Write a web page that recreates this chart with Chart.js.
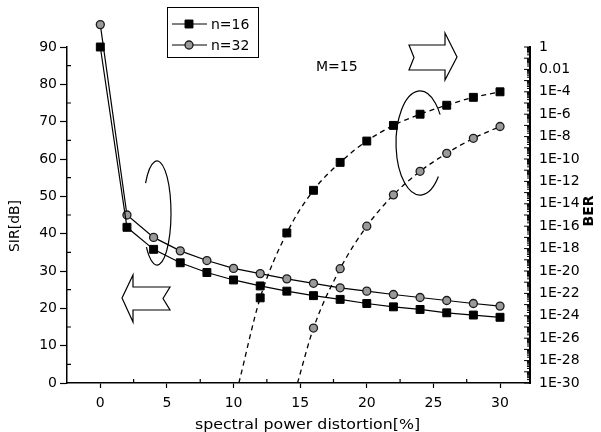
<!DOCTYPE html>
<html>
<head>
<meta charset="utf-8">
<script src="https://cdn.jsdelivr.net/npm/chart.js@4/dist/chart.umd.min.js"></script>
<style>
  body { margin: 0; background: #fff; }
</style>
</head>
<body>
<canvas id="chart" width="601" height="432"></canvas>
<script>
// SIR (left axis) vs distortion
const distortion = [0, 2, 4, 6, 8, 10, 12, 14, 16, 18, 20, 22, 24, 26, 28, 30];
const sirN16 = [90, 41.7, 35.8, 32.2, 29.6, 27.6, 26.0, 24.6, 23.4, 22.4, 21.3, 20.4, 19.7, 18.8, 18.2, 17.6];
const sirN32 = [96, 45.0, 39.0, 35.4, 32.8, 30.7, 29.3, 27.9, 26.7, 25.5, 24.6, 23.7, 22.9, 22.1, 21.3, 20.6];

// BER (right axis); first entry is where the fitted curve leaves the bottom
const berDistN16 = [10.4, 12, 14, 16, 18, 20, 22, 24, 26, 28, 30];
const berN16 = [1e-30, 4e-23, 2.5e-17, 1.6e-13, 5e-11, 4e-9, 1e-7, 1e-6, 6.3e-6, 3.2e-5, 1e-4];
const berDistN32 = [14.8, 16, 18, 20, 22, 24, 26, 28, 30];
const berN32 = [1e-30, 8e-26, 1.6e-20, 1e-16, 6.3e-14, 8e-12, 3.2e-10, 7e-9, 8e-8];

const xTicks = [0, 5, 10, 15, 20, 25, 30];
const sirTicks = [0, 10, 20, 30, 40, 50, 60, 70, 80, 90];

const FONT = "'DejaVu Sans', sans-serif";
const pairs = (xs, ys) => xs.map((x, i) => ({ x: x, y: ys[i] }));

const square = { pointStyle: 'rect', pointRadius: 5.6, pointBackgroundColor: '#000', pointBorderColor: '#000', pointBorderWidth: 1 };
const circle = { pointStyle: 'circle', pointRadius: 4, pointBackgroundColor: '#9a9a9a', pointBorderColor: '#1a1a1a', pointBorderWidth: 1.3 };

// points that sit above the top of the axis (clip: false) are still drawn
const overflowPoints = {
  id: 'overflowPoints',
  afterDatasetsDraw(chart) {
    const a = chart.chartArea;
    const big = { left: -1e4, top: -1e4, right: 1e4, bottom: 1e4 };
    chart.data.datasets.forEach((ds, i) => {
      if (ds.clip !== false) return;
      chart.getDatasetMeta(i).data.forEach(pt => {
        if (pt.y < a.top - 1 || pt.y > a.bottom + 1) pt.draw(chart.ctx, big);
      });
    });
  }
};

const decor = {
  id: 'decor',
  afterDraw(chart) {
    const ctx = chart.ctx;
    const x = chart.scales.x, y = chart.scales.y, y2 = chart.scales.y2;
    ctx.save();
    ctx.strokeStyle = '#000';
    ctx.fillStyle = '#000';
    ctx.lineWidth = 1.2;

    // minor ticks
    ctx.beginPath();
    for (let v = 2.5; v < 32; v += 5) {
      const px = x.getPixelForValue(v);
      ctx.moveTo(px, y.bottom); ctx.lineTo(px, y.bottom - 4);
    }
    for (let v = 5; v < 90; v += 10) {
      const py = y.getPixelForValue(v);
      ctx.moveTo(x.left, py); ctx.lineTo(x.left + 4, py);
    }
    ctx.stroke();
    // BER axis ticks point inward
    ctx.beginPath();
    ctx.lineWidth = 1;
    for (let e = -30; e <= 0; e++) {
      let py = y2.getPixelForValue(Math.pow(10, e));
      ctx.moveTo(y2.left, py); ctx.lineTo(y2.left - 6, py);
      if (e < 0) {
        for (let m = 2; m <= 9; m++) {
          py = y2.getPixelForValue(m * Math.pow(10, e));
          ctx.moveTo(y2.left, py); ctx.lineTo(y2.left - 3, py);
        }
      }
    }
    ctx.stroke();

    // axis titles
    ctx.font = '14px ' + FONT;
    ctx.textAlign = 'center';
    ctx.textBaseline = 'middle';
    ctx.save();
    ctx.translate(307.5, 425);
    ctx.scale(1.13, 1);
    ctx.fillText('spectral power distortion[%]', 0, 0);
    ctx.restore();
    ctx.save();
    ctx.translate(15, 226);
    ctx.rotate(-Math.PI / 2);
    ctx.fillText('SIR[dB]', 0, 0);
    ctx.restore();
    ctx.save();
    ctx.translate(589, 211);
    ctx.rotate(-Math.PI / 2);
    ctx.font = 'bold 14px ' + FONT;
    ctx.fillText('BER', 0, 0);
    ctx.restore();

    ctx.textAlign = 'left';
    ctx.fillText('M=15', 316, 67);

    // legend
    ctx.lineWidth = 1;
    ctx.strokeRect(167.5, 7.5, 91, 50);
    chart.data.datasets.slice(0, 2).forEach((ds, i) => {
      const cy = 24 + i * 21;
      ctx.beginPath();
      ctx.moveTo(172, cy); ctx.lineTo(207, cy);
      ctx.strokeStyle = '#000';
      ctx.stroke();
      ctx.fillStyle = ds.pointBackgroundColor;
      ctx.strokeStyle = ds.pointBorderColor;
      ctx.lineWidth = ds.pointBorderWidth;
      Chart.helpers.drawPoint(ctx, { pointStyle: ds.pointStyle, radius: ds.pointRadius, borderWidth: ds.pointBorderWidth }, 189, cy);
      ctx.fillStyle = '#000';
      ctx.strokeStyle = '#000';
      ctx.lineWidth = 1;
      ctx.fillText(ds.label, 211, cy + 1);
    });

    // arrows
    ctx.lineWidth = 1.2;
    const poly = pts => {
      ctx.beginPath();
      pts.forEach((p, i) => i ? ctx.lineTo(p[0], p[1]) : ctx.moveTo(p[0], p[1]));
      ctx.closePath();
      ctx.fillStyle = '#fff';
      ctx.fill();
      ctx.stroke();
    };
    poly([[409, 45], [445, 45], [445, 33], [457, 57], [445, 80], [445, 70], [409, 70], [414, 57.5]]);
    poly([[122, 298], [133, 275], [133, 287], [170, 287], [163, 298.5], [170, 310], [133, 310], [133, 322]]);

    // ellipses
    const rad = d => d * Math.PI / 180;
    ctx.beginPath();
    ctx.ellipse(157, 213, 14, 52, 0, rad(215), rad(499));
    ctx.stroke();
    ctx.beginPath();
    ctx.ellipse(420, 143, 24, 52, 0, rad(40), rad(327));
    ctx.stroke();

    ctx.restore();
  }
};

new Chart(document.getElementById('chart'), {
  type: 'scatter',
  data: {
    datasets: [
      Object.assign({ label: 'n=16', data: pairs(distortion, sirN16), yAxisID: 'y', showLine: true, borderColor: '#000', borderWidth: 1.2, clip: false }, square),
      Object.assign({ label: 'n=32', data: pairs(distortion, sirN32), yAxisID: 'y', showLine: true, borderColor: '#000', borderWidth: 1.2, clip: false }, circle),
      Object.assign({ label: 'BER n=16', data: pairs(berDistN16, berN16), yAxisID: 'y2', showLine: true, borderColor: '#000', borderWidth: 1.3, borderDash: [5, 4], cubicInterpolationMode: 'monotone' }, square, { pointRadius: berN16.map((v, i) => i ? 5.6 : 0) }),
      Object.assign({ label: 'BER n=32', data: pairs(berDistN32, berN32), yAxisID: 'y2', showLine: true, borderColor: '#000', borderWidth: 1.3, borderDash: [5, 4], cubicInterpolationMode: 'monotone' }, circle, { pointRadius: berN32.map((v, i) => i ? 4 : 0) })
    ]
  },
  options: {
    responsive: false,
    animation: false,
    devicePixelRatio: 1,
    layout: { padding: { top: 47, left: 0, right: 0, bottom: 0 } },
    plugins: { legend: { display: false }, tooltip: { enabled: false } },
    scales: {
      x: {
        type: 'linear', min: -2.5, max: 32.25,
        afterBuildTicks: s => { s.ticks = xTicks.map(v => ({ value: v })); },
        afterFit: s => { s.height = 49; },
        grid: { drawOnChartArea: false, tickLength: 5, tickColor: '#000', tickWidth: 1.2 },
        border: { color: '#000', width: 1.5 },
        ticks: { color: '#000', font: { family: FONT, size: 14 }, padding: 7, maxRotation: 0 }
      },
      y: {
        type: 'linear', position: 'left', min: 0, max: 90,
        afterBuildTicks: s => { s.ticks = sirTicks.map(v => ({ value: v })); },
        afterFit: s => { s.width = 67; },
        grid: { drawOnChartArea: false, tickLength: 7, tickColor: '#000', tickWidth: 1.2 },
        border: { color: '#000', width: 1.5 },
        ticks: { color: '#000', font: { family: FONT, size: 14 }, padding: 3 }
      },
      y2: {
        type: 'logarithmic', position: 'right', min: 1e-30, max: 1,
        afterBuildTicks: s => {
          const t = [];
          for (let e = -30; e <= 0; e += 2) t.push({ value: Math.pow(10, e) });
          s.ticks = t;
        },
        afterFit: s => { s.width = 71; },
        grid: { display: false },
        border: { display: true, color: '#000', width: 2 },
        ticks: {
          color: '#000', font: { family: FONT, size: 14 }, padding: 1, autoSkip: false,
          callback: v => {
            const e = Math.round(Math.log10(v));
            if (e === 0) return '1';
            if (e === -2) return '0.01';
            return '1E' + e;
          }
        }
      }
    }
  },
  plugins: [overflowPoints, decor]
});
</script>
</body>
</html>
